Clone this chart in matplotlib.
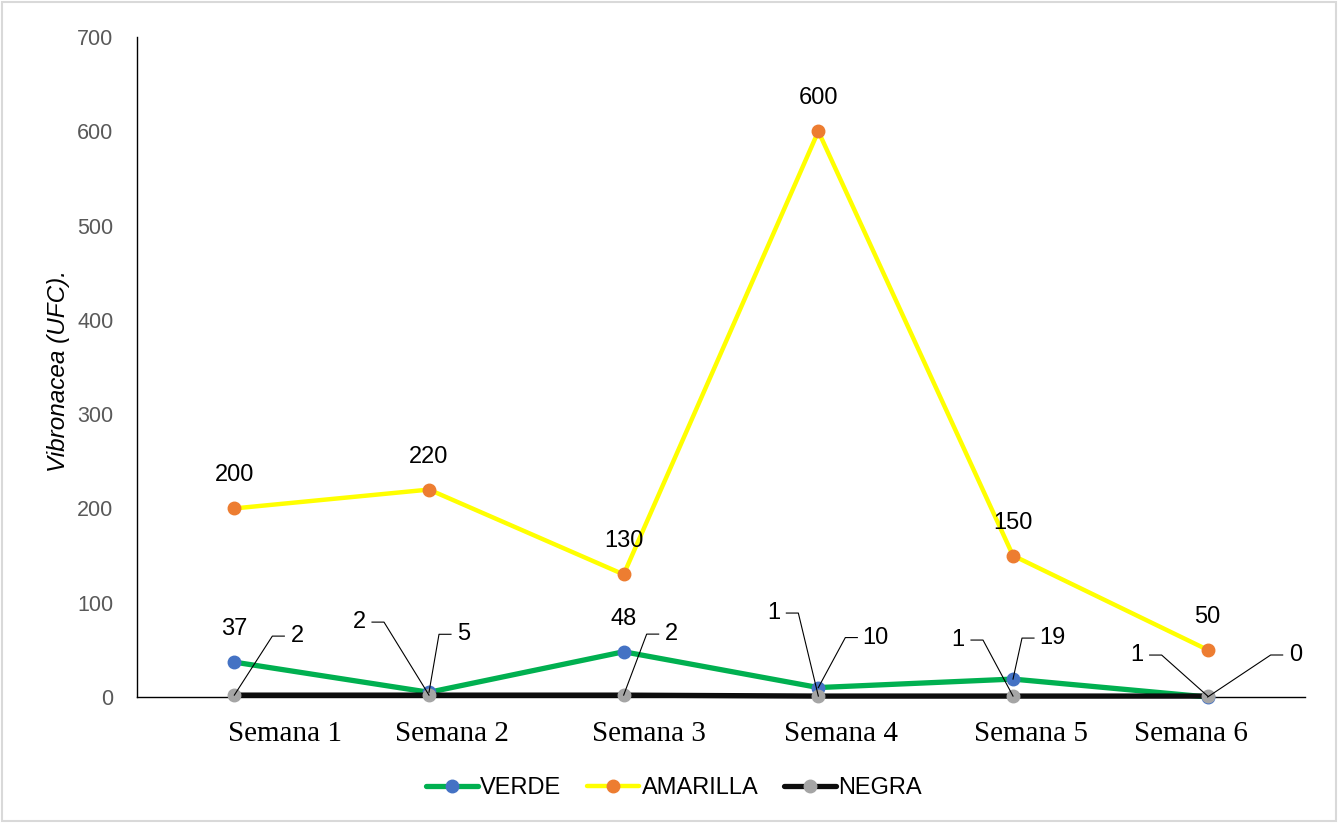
import matplotlib
matplotlib.use("Agg")
import matplotlib.pyplot as plt
from matplotlib.lines import Line2D
from matplotlib.patches import Rectangle
from matplotlib.transforms import IdentityTransform

semanas = ["Semana 1", "Semana 2", "Semana 3", "Semana 4", "Semana 5", "Semana 6"]
verde = [37, 5, 48, 10, 19, 0]
amarilla = [200, 220, 130, 600, 150, 50]
negra = [2, 2, 2, 1, 1, 1]
y_ticks = [0, 100, 200, 300, 400, 500, 600, 700]

# label placement, pixel offsets from the marker (x right, y down); None = plain label above
verde_pos = [None, (35, -58), None, (57, -50), (39, -41), (88, -42)]
amarilla_pos = [None] * 6
negra_pos = [(63, -59), (-70, -73), (48, -61), (-45, -83), (-55, -56), (-71, -41)]
# category text boxes sit a little off their ticks
semana_dx = [51, 23, 25, 23, 18, -17]

plt.rcParams["font.family"] = ["Liberation Sans", "DejaVu Sans"]

fig = plt.figure(figsize=(13.38, 8.23), dpi=100)
ax = fig.add_axes([137 / 1338, 126 / 823, 1168 / 1338, 660 / 823])

x = list(range(len(semanas)))
series = [
    ("VERDE", verde, "#00B050", "#4472C4", 3.8, verde_pos),
    ("AMARILLA", amarilla, "#FFFF00", "#ED7D31", 3.2, amarilla_pos),
    ("NEGRA", negra, "#0D0D0D", "#A5A5A5", 3.8, negra_pos),
]
for z, (name, vals, lc, mc, lw, _) in enumerate(series):
    ax.plot(x, vals, color=lc, lw=lw, marker="o", ms=9, mfc=mc, mec=mc,
            label=name, zorder=3 + z, clip_on=False, solid_capstyle="round")

ax.set_xlim(-0.5, len(semanas) - 0.5)
ax.set_ylim(0, 700)
ax.set_yticks(y_ticks)
ax.set_xticks(x)
ax.set_xticklabels([])
ax.tick_params(axis="x", length=0)
ax.tick_params(axis="y", length=0, pad=17, labelsize=15.5, labelcolor="#595959")
for s in ("top", "right"):
    ax.spines[s].set_visible(False)
ax.spines["left"].set_linewidth(1.0)
ax.spines["bottom"].set_linewidth(1.0)
ax.set_ylabel("Vibronacea (UFC).", fontsize=17.5, style="italic")
ax.yaxis.set_label_coords(-0.057, 0.494)

for i, lab in enumerate(semanas):
    ax.annotate(lab, (i, 0), xycoords=("data", "axes fraction"),
                xytext=(semana_dx[i], -37), textcoords="offset pixels",
                ha="center", va="center", fontsize=21,
                family=["Liberation Serif", "DejaVu Serif"])

# data labels, with leader lines for the crowded ones near zero
for name, vals, lc, mc, lw, pos in series:
    for i, v in enumerate(vals):
        px, py = ax.transData.transform((i, v))
        if pos[i] is None:
            ax.annotate(str(v), (i, v), xytext=(0, 33), textcoords="offset pixels",
                        ha="center", va="center", fontsize=17, zorder=10)
            continue
        dx, dy = pos[i]
        ax.annotate(str(v), (i, v), xytext=(dx, -dy), textcoords="offset pixels",
                    ha="center", va="center", fontsize=17, zorder=10)
        side = 1 if dx > 0 else -1
        hw = len(str(v)) * 5 + 8
        end = dx - side * hw
        corner = end - side * 12
        xs = [px, px + corner, px + end]
        ys = [py, py - dy, py - dy]
        fig.add_artist(Line2D(xs, ys, color="black", lw=0.8,
                              transform=IdentityTransform(), zorder=10))

leg = fig.legend(loc="center", bbox_to_anchor=(674 / 1338, 35 / 823), ncol=3,
                 frameon=False, handlelength=2.2, handletextpad=0.1,
                 columnspacing=1.1,
                 prop={"family": ["Liberation Sans Narrow", "Liberation Sans"], "size": 17})

fig.add_artist(Rectangle((2 / 1338, 2 / 823), 1334 / 1338, 819 / 823,
                         transform=fig.transFigure, fill=False,
                         edgecolor="#D9D9D9", lw=1.5))

fig.savefig("out.png", dpi=100)
